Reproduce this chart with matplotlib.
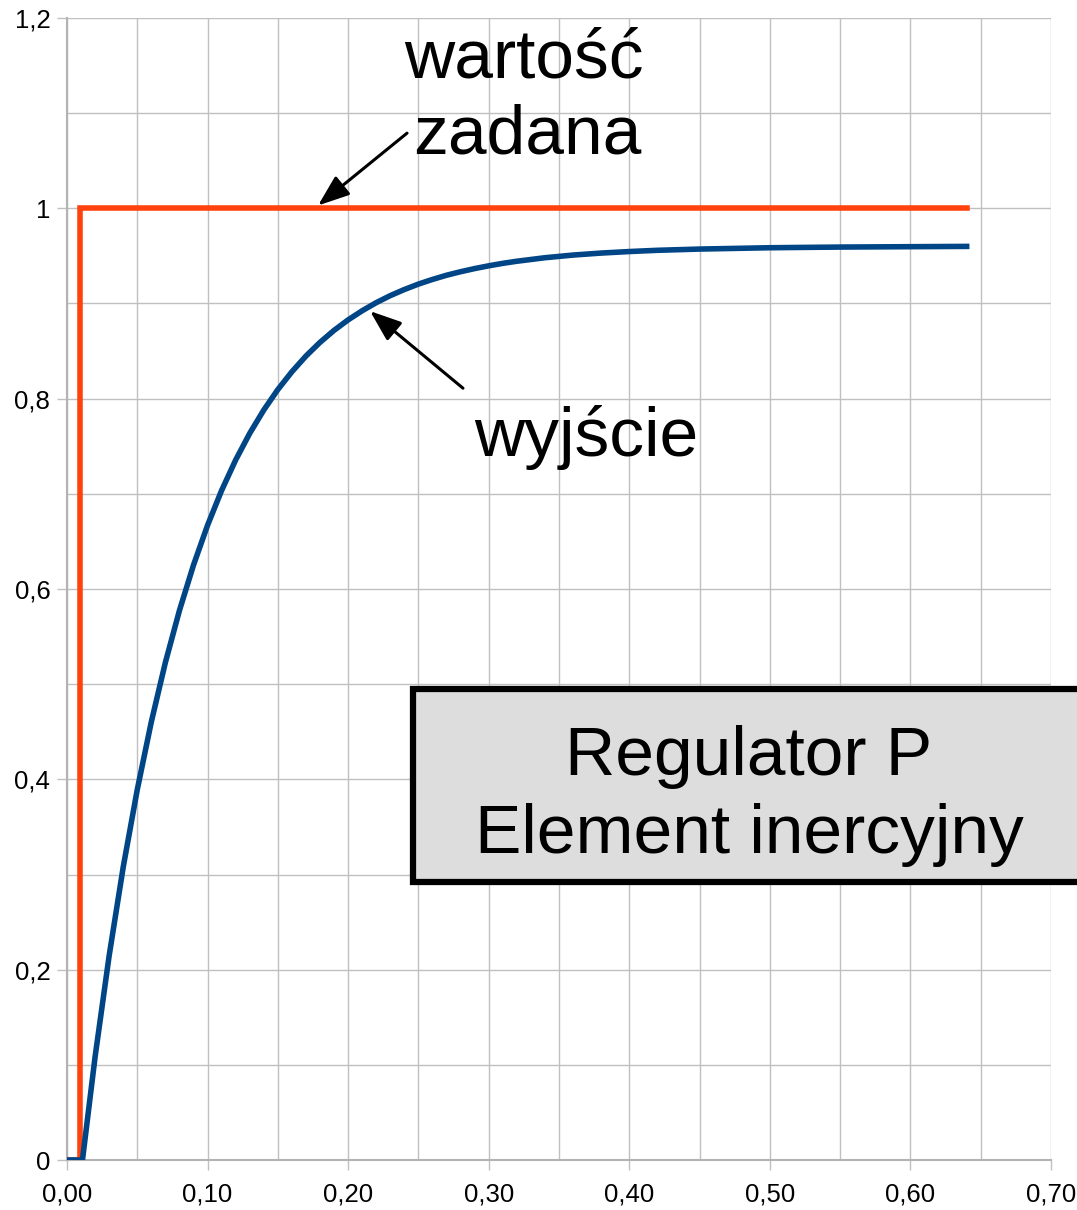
import matplotlib
matplotlib.use("Agg")
import matplotlib.pyplot as plt
from matplotlib.patches import Rectangle, FancyArrowPatch
from matplotlib.ticker import MultipleLocator, FixedLocator

plt.rcParams['font.family'] = ['Liberation Sans', 'DejaVu Sans']

# ---- data ----
setpoint_t = [0.0, 0.009, 0.009, 0.64]
setpoint_v = [0.0, 0.0, 1.0, 1.0]

output_t = [0.0, 0.011, 0.02, 0.03, 0.04, 0.05, 0.06, 0.07, 0.08, 0.09, 0.10,
            0.11, 0.12, 0.13, 0.14, 0.15, 0.16, 0.17, 0.18, 0.19, 0.20,
            0.21, 0.22, 0.23, 0.24, 0.25, 0.26, 0.27, 0.28, 0.29, 0.30,
            0.31, 0.32, 0.34, 0.36, 0.38, 0.40, 0.42, 0.45, 0.50,
            0.55, 0.60, 0.64]
output_v = [0.0, 0.0, 0.1086, 0.2148, 0.3079, 0.3893, 0.4605, 0.5229, 0.5775, 0.6252, 0.6670,
            0.7036, 0.7356, 0.7636, 0.7881, 0.8096, 0.8283, 0.8448, 0.8592, 0.8718, 0.8828,
            0.8924, 0.9009, 0.9083, 0.9147, 0.9204, 0.9253, 0.9297, 0.9334, 0.9367, 0.9396,
            0.9422, 0.9444, 0.9481, 0.9509, 0.9530, 0.9546, 0.9559, 0.9572, 0.9586,
            0.9593, 0.9597, 0.9600]

x_ticks = [0.0, 0.1, 0.2, 0.3, 0.4, 0.5, 0.6, 0.7]
x_labels = ["0,00", "0,10", "0,20", "0,30", "0,40", "0,50", "0,60", "0,70"]
y_ticks = [0.0, 0.2, 0.4, 0.6, 0.8, 1.0, 1.2]
y_labels = ["0", "0,2", "0,4", "0,6", "0,8", "1", "1,2"]

label_setpoint = ["wartość", "zadana"]
label_output = "wyjście"
box_lines = ["Regulator P", "Element inercyjny"]

W, H = 1077, 1210
fig = plt.figure(figsize=(W / 100, H / 100), dpi=100)

def fx(px):
    return px / W

def fy(py):
    return 1 - py / H

ax = fig.add_axes([fx(67), fy(1160), fx(1051) - fx(67), fy(18) - fy(1160)])
ax.set_xlim(0, 0.70)
ax.set_ylim(0, 1.2)

grid_c = '#c0c0c0'
ax.xaxis.set_major_locator(FixedLocator(x_ticks))
ax.set_xticklabels(x_labels)
ax.yaxis.set_major_locator(FixedLocator(y_ticks))
ax.set_yticklabels(y_labels)
ax.xaxis.set_minor_locator(MultipleLocator(0.05))
ax.yaxis.set_minor_locator(MultipleLocator(0.1))
ax.grid(True, which='both', color=grid_c, lw=1.0, zorder=0)
ax.set_axisbelow(True)
ax.tick_params(which='major', direction='out', length=7, width=1.0, color=grid_c,
               labelsize=18.5, labelcolor='black')
ax.tick_params(axis='x', which='major', pad=9)
ax.tick_params(axis='y', which='major', pad=5)
ax.tick_params(which='minor', length=0)
for s in ['top', 'right']:
    ax.spines[s].set_visible(False)
for s in ['left', 'bottom']:
    ax.spines[s].set_color('#b3b3b3')
    ax.spines[s].set_linewidth(1.5)

ax.plot(setpoint_t, setpoint_v, color='#ff420e', lw=4.0, solid_joinstyle='miter', zorder=3)
ax.plot(output_t, output_v, color='#004586', lw=4.0, solid_joinstyle='round', zorder=4)

# arrows
arrow_kw = dict(arrowstyle='-|>,head_length=1.6,head_width=0.6', mutation_scale=12,
                color='black', lw=2.2, shrinkA=0, shrinkB=0, zorder=6)
ax.add_patch(FancyArrowPatch((0.2419, 1.079), (0.1786, 1.003), **arrow_kw))
ax.add_patch(FancyArrowPatch((0.2817, 0.811), (0.2156, 0.892), **arrow_kw))

big = 50
fig.text(fx(524), fy(77), label_setpoint[0], ha='center', va='baseline', fontsize=big)
fig.text(fx(527), fy(154), label_setpoint[1], ha='center', va='baseline', fontsize=big)
fig.text(fx(586), fy(456), label_output, ha='center', va='baseline', fontsize=big)

rect = Rectangle((fx(413), fy(882)), fx(1110) - fx(413), fy(689) - fy(882),
                 transform=fig.transFigure, facecolor='#dddddd', edgecolor='black',
                 lw=4.5, zorder=10, clip_on=False)
fig.patches.append(rect)
fig.text(fx(749), fy(775), box_lines[0], ha='center', va='baseline', fontsize=big, zorder=11)
fig.text(fx(749), fy(853), box_lines[1], ha='center', va='baseline', fontsize=big, zorder=11)

fig.savefig('out.png', dpi=100)
